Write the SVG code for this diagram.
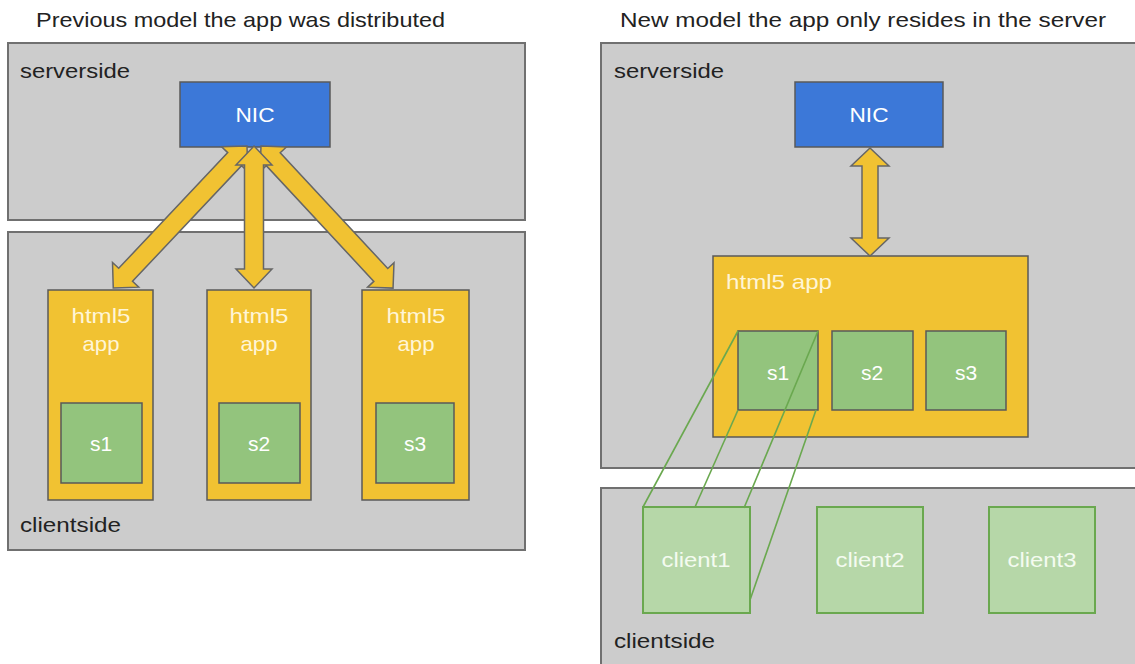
<svg xmlns="http://www.w3.org/2000/svg" width="1135" height="664" viewBox="0 0 1135 664">
  <style>
    .bg { fill: #ffffff; }
    .zone { fill: #cccccc; stroke: #707070; stroke-width: 2; }
    .nic { fill: #3c78d8; stroke: #595959; stroke-width: 1.5; }
    .app { fill: #f1c232; stroke: #595959; stroke-width: 1.5; }
    .store { fill: #93c47d; stroke: #595959; stroke-width: 1.5; }
    .client { fill: #b6d7a8; stroke: #6aa84f; stroke-width: 2; }
    .arrow { fill: #f1c232; stroke: #666666; stroke-width: 1.5; stroke-linejoin: miter; }
    .link { fill: none; stroke: #6aa84f; stroke-width: 1.6; }
    text { font-family: "Liberation Sans", Arial, sans-serif; font-size: 21px; }
    .title { fill: #222222; }
    .label { fill: #222222; }
    .inv { fill: #ffffff; text-anchor: middle; }
    .inv-app { fill: #fff5d6; }
    .inv-client { fill: #f4fbf0; text-anchor: middle; }
  </style>

  <rect class="bg" x="0" y="0" width="1135" height="664"/>

  <!-- Titles -->
  <text class="title" x="36" y="27" textLength="409" lengthAdjust="spacingAndGlyphs">Previous model the app was distributed</text>
  <text class="title" x="620" y="27" textLength="486" lengthAdjust="spacingAndGlyphs">New model the app only resides in the server</text>

  <!-- ===== Distributed model (left) ===== -->
  <g id="left-serverside">
    <rect class="zone" x="8" y="43" width="517" height="177"/>
    <text class="label" x="20" y="78" textLength="110" lengthAdjust="spacingAndGlyphs">serverside</text>
  </g>
  <g id="left-clientside">
    <rect class="zone" x="8" y="232" width="517" height="318"/>
    <text class="label" x="20" y="532" textLength="101" lengthAdjust="spacingAndGlyphs">clientside</text>
  </g>

  <g id="left-nic">
    <rect class="nic" x="180" y="82" width="150" height="65"/>
    <text class="inv" x="255" y="122" textLength="39" lengthAdjust="spacingAndGlyphs">NIC</text>
  </g>

  <g id="left-app1">
    <rect class="app" x="48" y="290" width="105" height="210"/>
    <text class="inv inv-app" x="101" y="323" textLength="59" lengthAdjust="spacingAndGlyphs">html5</text>
    <text class="inv inv-app" x="101" y="351" textLength="37" lengthAdjust="spacingAndGlyphs">app</text>
  </g>
  <g id="left-s1">
    <rect class="store" x="61" y="403" width="81" height="80"/>
    <text class="inv" x="101" y="451">s1</text>
  </g>

  <g id="left-app2">
    <rect class="app" x="207" y="290" width="104" height="210"/>
    <text class="inv inv-app" x="259" y="323" textLength="59" lengthAdjust="spacingAndGlyphs">html5</text>
    <text class="inv inv-app" x="259" y="351" textLength="37" lengthAdjust="spacingAndGlyphs">app</text>
  </g>
  <g id="left-s2">
    <rect class="store" x="219" y="403" width="81" height="80"/>
    <text class="inv" x="259" y="451">s2</text>
  </g>

  <g id="left-app3">
    <rect class="app" x="362" y="290" width="107" height="210"/>
    <text class="inv inv-app" x="416" y="323" textLength="59" lengthAdjust="spacingAndGlyphs">html5</text>
    <text class="inv inv-app" x="416" y="351" textLength="37" lengthAdjust="spacingAndGlyphs">app</text>
  </g>
  <g id="left-s3">
    <rect class="store" x="376" y="403" width="78" height="80"/>
    <text class="inv" x="415" y="451">s3</text>
  </g>

  <!-- ===== Server-only model (right) ===== -->
  <g id="right-serverside">
    <rect class="zone" x="601" y="43" width="545" height="425"/>
    <text class="label" x="614" y="78" textLength="110" lengthAdjust="spacingAndGlyphs">serverside</text>
  </g>
  <g id="right-clientside">
    <rect class="zone" x="601" y="488" width="545" height="190"/>
    <text class="label" x="614" y="648" textLength="101" lengthAdjust="spacingAndGlyphs">clientside</text>
  </g>

  <g id="right-nic">
    <rect class="nic" x="795" y="82" width="148" height="65"/>
    <text class="inv" x="869" y="122" textLength="39" lengthAdjust="spacingAndGlyphs">NIC</text>
  </g>

  <g id="right-app">
    <rect class="app" x="713" y="256" width="315" height="181"/>
    <text class="inv-app" x="726" y="289" textLength="106" lengthAdjust="spacingAndGlyphs">html5 app</text>
  </g>
  <g id="right-s1">
    <rect class="store" x="738" y="331" width="80" height="79"/>
    <text class="inv" x="778" y="380">s1</text>
  </g>
  <g id="right-s2">
    <rect class="store" x="832" y="331" width="81" height="79"/>
    <text class="inv" x="872" y="380">s2</text>
  </g>
  <g id="right-s3">
    <rect class="store" x="926" y="331" width="80" height="79"/>
    <text class="inv" x="966" y="380">s3</text>
  </g>

  <g id="client1">
    <rect class="client" x="643" y="507" width="107" height="106"/>
    <text class="inv-client" x="696" y="567" textLength="69" lengthAdjust="spacingAndGlyphs">client1</text>
  </g>
  <g id="client2">
    <rect class="client" x="817" y="507" width="106" height="106"/>
    <text class="inv-client" x="870" y="567" textLength="69" lengthAdjust="spacingAndGlyphs">client2</text>
  </g>
  <g id="client3">
    <rect class="client" x="989" y="507" width="106" height="106"/>
    <text class="inv-client" x="1042" y="567" textLength="69" lengthAdjust="spacingAndGlyphs">client3</text>
  </g>

  <!-- Connectors -->
  <g id="connectors">
    <!-- double block arrows, drawn along +x then rotated into place -->
    <polygon class="arrow" transform="translate(247,146) rotate(133.3)"
             points="0,0 18,-18 18,-9.5 177,-9.5 177,-18 195,0 177,18 177,9.5 18,9.5 18,18"/>
    <polygon class="arrow" transform="translate(261,146) rotate(47.1)"
             points="0,0 18,-18 18,-9.5 176,-9.5 176,-18 194,0 176,18 176,9.5 18,9.5 18,18"/>
    <polygon class="arrow" transform="translate(254,146) rotate(90)"
             points="0,0 19,-18 19,-9.5 123,-9.5 123,-18 142,0 123,18 123,9.5 19,9.5 19,18"/>
    <polygon class="arrow" transform="translate(870,148) rotate(90)"
             points="0,0 18,-19 18,-8 90,-8 90,-19 108,0 90,19 90,8 18,8 18,19"/>

    <!-- projection lines from s1 to client1 -->
    <line class="link" x1="738" y1="331" x2="643" y2="507"/>
    <line class="link" x1="738" y1="410" x2="695" y2="507"/>
    <line class="link" x1="818" y1="331" x2="744" y2="508"/>
    <line class="link" x1="816" y1="410" x2="750" y2="600"/>
  </g>
</svg>
